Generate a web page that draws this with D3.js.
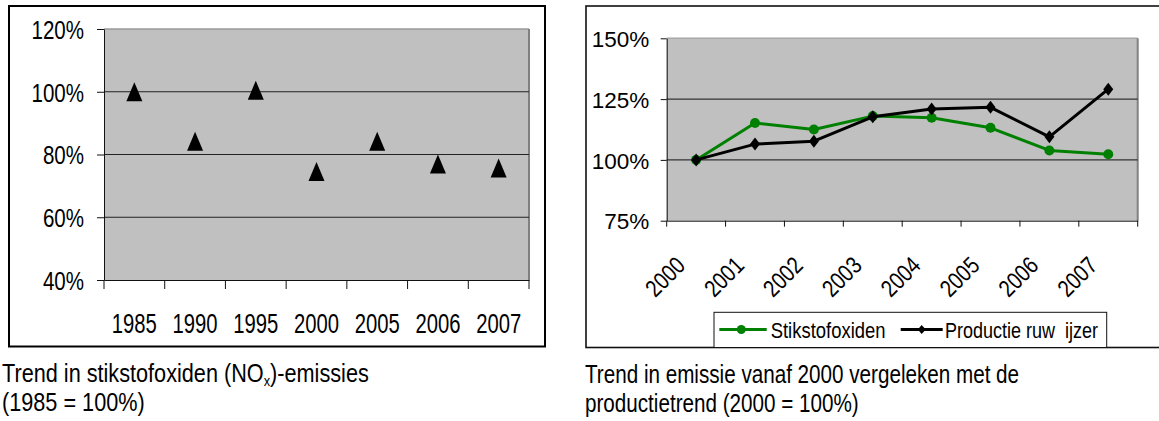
<!DOCTYPE html>
<html><head><meta charset="utf-8">
<script src="https://cdn.jsdelivr.net/npm/d3@7"></script>
<style>
body{margin:0;background:#fff}
svg{display:block}
text{font-family:"Liberation Sans",Arial,sans-serif}
</style></head><body>
<svg id="c" width="1159" height="421"></svg>
<script>
// ---- data ----
const noxYears = ["1985","1990","1995","2000","2005","2006","2007"];
const noxValues = [100, 84.2, 100.5, 74.6, 84.2, 77.0, 75.7];
const noxTicks = [40, 60, 80, 100, 120];

const trendYears = ["2000","2001","2002","2003","2004","2005","2006","2007"];
const stikstofValues = [100, 115.2, 112.5, 118.0, 117.3, 113.2, 103.9, 102.3];
const ruwIjzerValues = [100, 106.5, 107.7, 117.7, 120.9, 121.6, 109.5, 129.1];
const trendTicks = [75, 100, 125, 150];
const seriesNames = ["Stikstofoxiden", "Productie ruw  ijzer"];
const seriesColors = ["#008000", "#000000"];

const captionLeft = ["Trend in stikstofoxiden (NO", "x", ")-emissies", "(1985 = 100%)"];
const captionRight = ["Trend in emissie vanaf 2000 vergeleken met de", "productietrend (2000 = 100%)"];

const svg = d3.select("#c");

// horizontally condense text (narrow face emulation)
function squeeze(sel, sx, extra) {
  sel.each(function () {
    const t = d3.select(this);
    const x = +t.attr("x") || 0, y = +t.attr("y") || 0;
    t.attr("x", 0).attr("y", 0)
      .attr("transform", `translate(${x},${y})${extra || ""} scale(${sx},1)`);
  });
}

// ================= LEFT CHART =================
{
  const L = {x0: 104, x1: 529, y0: 29, y1: 280};
  svg.append("rect").attr("x", 9).attr("y", 6).attr("width", 536).attr("height", 340.5)
    .attr("fill", "#fff").attr("stroke", "#000").attr("stroke-width", 2);

  const x = d3.scaleBand().domain(noxYears).range([L.x0, L.x1]).padding(0);
  const y = d3.scaleLinear().domain([40, 120]).range([L.y1, L.y0]);

  svg.append("rect").attr("x", L.x0).attr("y", L.y0).attr("width", L.x1 - L.x0).attr("height", L.y1 - L.y0)
    .attr("fill", "#c0c0c0");
  svg.append("line").attr("x1", L.x0).attr("x2", L.x1).attr("y1", L.y0).attr("y2", L.y0)
    .attr("stroke", "#9a9a9a").attr("stroke-width", 1.5);
  svg.append("line").attr("x1", L.x1).attr("x2", L.x1).attr("y1", L.y0).attr("y2", L.y1)
    .attr("stroke", "#808080").attr("stroke-width", 2);

  svg.append("g").selectAll("line").data(noxTicks.filter(d => d > 40 && d < 120)).join("line")
    .attr("x1", L.x0).attr("x2", L.x1).attr("y1", d => y(d)).attr("y2", d => y(d))
    .attr("stroke", "#222").attr("stroke-width", 1);

  const ya = svg.append("g").attr("transform", `translate(${L.x0},0)`)
    .call(d3.axisLeft(y).tickValues(noxTicks).tickSizeInner(7).tickSizeOuter(0).tickPadding(13).tickFormat(d => d + "%"));
  ya.select(".domain").attr("stroke", "#111");
  ya.selectAll(".tick line").attr("stroke", "#111");
  ya.selectAll("text").attr("font-size", 26.5).attr("fill", "#000").attr("dy", "0.35em")
    .call(squeeze, 0.775);

  const xa = svg.append("g").attr("transform", `translate(0,${L.y1})`)
    .call(d3.axisBottom(x).tickSize(0).tickPadding(0));
  xa.select(".domain").attr("stroke", "#111");
  xa.selectAll("text").attr("font-size", 27).attr("fill", "#000")
    .attr("y", 53).attr("dy", 0).call(squeeze, 0.75);
  const bounds = d3.range(noxYears.length + 1).map(i => x.range()[0] + i * x.step());
  xa.append("g").selectAll("line").data(bounds).join("line")
    .attr("x1", d => d).attr("x2", d => d).attr("y1", 0).attr("y2", 9)
    .attr("stroke", "#111");

  const tri = "M0,-9.5L8,9.5L-8,9.5Z";
  svg.append("g").selectAll("path").data(noxValues).join("path")
    .attr("d", tri)
    .attr("transform", (d, i) => `translate(${x(noxYears[i]) + x.bandwidth() / 2},${y(d)})`)
    .attr("fill", "#000");

  const t1 = svg.append("text").attr("font-size", 25.5).attr("x", 2).attr("y", 382);
  t1.append("tspan").text(captionLeft[0]);
  t1.append("tspan").attr("font-size", 15).attr("dy", 4).text(captionLeft[1]);
  t1.append("tspan").attr("dy", -4).text(captionLeft[2]);
  t1.call(squeeze, 0.85);
  svg.append("text").attr("font-size", 25.5).attr("x", 2).attr("y", 411)
    .text(captionLeft[3]).call(squeeze, 0.85);
}

// ================= RIGHT CHART =================
{
  const R = {x0: 666.7, x1: 1137.7, y0: 38.3, y1: 220.7};
  svg.append("rect").attr("x", 586).attr("y", 6).attr("width", 620).attr("height", 341.5)
    .attr("fill", "#fff").attr("stroke", "#111").attr("stroke-width", 1.6);

  const x = d3.scaleBand().domain(trendYears).range([R.x0, R.x1]).padding(0);
  const y = d3.scaleLinear().domain([75, 150]).range([R.y1, R.y0]);

  svg.append("rect").attr("x", R.x0).attr("y", R.y0).attr("width", R.x1 - R.x0).attr("height", R.y1 - R.y0)
    .attr("fill", "#c0c0c0");
  svg.append("line").attr("x1", R.x0).attr("x2", R.x1).attr("y1", R.y0).attr("y2", R.y0)
    .attr("stroke", "#a8a8a8").attr("stroke-width", 1.5);
  svg.append("line").attr("x1", R.x1).attr("x2", R.x1).attr("y1", R.y0).attr("y2", R.y1)
    .attr("stroke", "#808080").attr("stroke-width", 2);

  svg.append("g").selectAll("line").data(trendTicks.filter(d => d > 75 && d < 150)).join("line")
    .attr("x1", R.x0).attr("x2", R.x1).attr("y1", d => y(d)).attr("y2", d => y(d))
    .attr("stroke", "#333").attr("stroke-width", 1.2);

  const ya = svg.append("g").attr("transform", `translate(${R.x0},0)`)
    .call(d3.axisLeft(y).tickValues(trendTicks).tickSizeInner(6).tickSizeOuter(0).tickPadding(11.5).tickFormat(d => d + "%"));
  ya.select(".domain").attr("stroke", "#111");
  ya.selectAll(".tick line").attr("stroke", "#111");
  ya.selectAll("text").attr("font-size", 22.5).attr("fill", "#000").attr("dy", "0.36em");

  const xa = svg.append("g").attr("transform", `translate(0,${R.y1})`)
    .call(d3.axisBottom(x).tickSize(0).tickPadding(0));
  xa.select(".domain").attr("stroke", "#111");
  xa.selectAll("text").attr("font-size", 24).attr("fill", "#000")
    .attr("x", -9.5).attr("y", 46.3).attr("dy", 0).attr("text-anchor", "end")
    .call(squeeze, 0.83, " rotate(-45)");
  const bounds = d3.range(trendYears.length + 1).map(i => x.range()[0] + i * x.step());
  xa.append("g").selectAll("line").data(bounds).join("line")
    .attr("x1", d => d).attr("x2", d => d).attr("y1", 0).attr("y2", 6)
    .attr("stroke", "#111");

  const line = d3.line().x((d, i) => x(trendYears[i]) + x.bandwidth() / 2).y(d => y(d));
  const diamond = "M0,-6.5L5,0L0,6.5L-5,0Z";

  svg.append("path").datum(stikstofValues).attr("d", line).attr("fill", "none")
    .attr("stroke", seriesColors[0]).attr("stroke-width", 3).attr("stroke-linejoin", "round");
  svg.append("g").selectAll("circle").data(stikstofValues).join("circle")
    .attr("cx", (d, i) => x(trendYears[i]) + x.bandwidth() / 2).attr("cy", d => y(d)).attr("r", 5)
    .attr("fill", seriesColors[0]);

  svg.append("path").datum(ruwIjzerValues).attr("d", line).attr("fill", "none")
    .attr("stroke", seriesColors[1]).attr("stroke-width", 3).attr("stroke-linejoin", "round");
  svg.append("g").selectAll("path").data(ruwIjzerValues).join("path")
    .attr("d", diamond)
    .attr("transform", (d, i) => `translate(${x(trendYears[i]) + x.bandwidth() / 2},${y(d)})`)
    .attr("fill", seriesColors[1]);

  // legend
  const lg = svg.append("g");
  lg.append("rect").attr("x", 714).attr("y", 312.3).attr("width", 392.7).attr("height", 35.2)
    .attr("fill", "#fff").attr("stroke", "#111").attr("stroke-width", 1);
  const ly = 329.5;
  lg.append("line").attr("x1", 719.3).attr("x2", 766.7).attr("y1", ly).attr("y2", ly)
    .attr("stroke", seriesColors[0]).attr("stroke-width", 3);
  lg.append("circle").attr("cx", 741.3).attr("cy", ly).attr("r", 4.5).attr("fill", seriesColors[0]);
  lg.append("text").attr("font-size", 22.5).attr("x", 770.7).attr("y", ly + 8)
    .text(seriesNames[0]).call(squeeze, 0.82);
  lg.append("line").attr("x1", 900.7).attr("x2", 942.7).attr("y1", ly).attr("y2", ly)
    .attr("stroke", seriesColors[1]).attr("stroke-width", 3);
  lg.append("path").attr("d", "M0,-4.5L4,0L0,4.5L-4,0Z").attr("transform", `translate(921.7,${ly})`)
    .attr("fill", seriesColors[1]);
  lg.append("text").attr("font-size", 22.5).attr("x", 945).attr("y", ly + 8)
    .style("white-space", "pre").text(seriesNames[1]).call(squeeze, 0.80);

  svg.append("text").attr("font-size", 25.5).attr("x", 585).attr("y", 383)
    .text(captionRight[0]).call(squeeze, 0.81);
  svg.append("text").attr("font-size", 25.5).attr("x", 585).attr("y", 411.5)
    .text(captionRight[1]).call(squeeze, 0.81);
}
</script>
</body></html>
